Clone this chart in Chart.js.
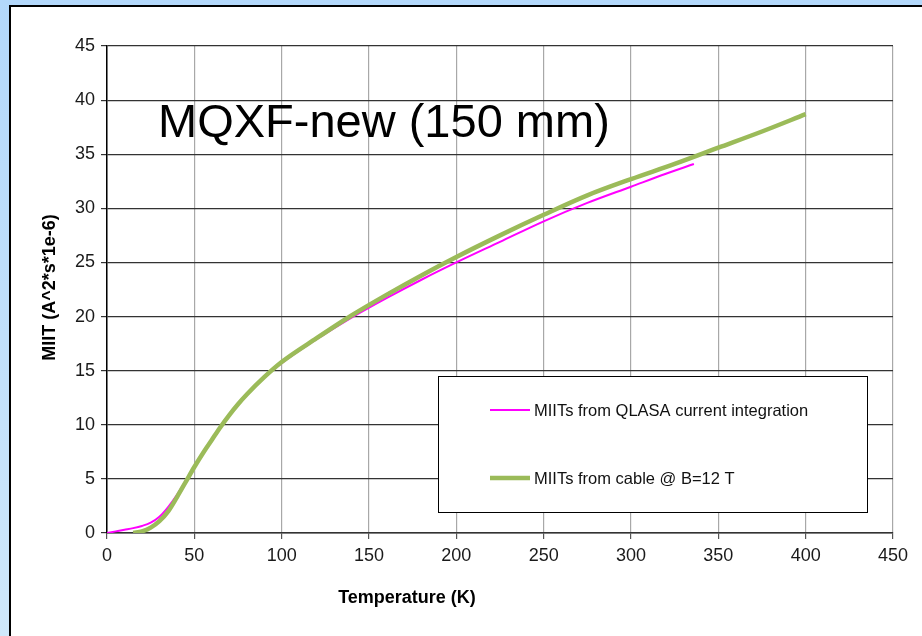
<!DOCTYPE html>
<html>
<head>
<meta charset="utf-8">
<script src="https://cdn.jsdelivr.net/npm/chart.js@4"></script>
<style>
  html, body { margin: 0; padding: 0; width: 922px; height: 636px; overflow: hidden; }
  body { background: linear-gradient(to bottom, #b3d8fb 0%, #c3e1fb 60%, #cfe8fb 100%); position: relative; }
  #panel { position: absolute; left: 9px; top: 5px; width: 940px; height: 660px; background: #fff;
           border-left: 2px solid #000; border-top: 2px solid #000; box-sizing: border-box; }
  #c { position: absolute; left: 0; top: 0; }
</style>
</head>
<body>
<div id="panel"></div>
<canvas id="c" width="922" height="636"></canvas>
<script>
// ---- data ----
const chartTitle = "MQXF-new (150 mm)";
const xAxisTitle = "Temperature (K)";
const yAxisTitle = "MIIT (A^2*s*1e-6)";
const qlasaLabel = "MIITs from QLASA current integration";
const cableLabel = "MIITs from cable @ B=12 T";

const qlasaT    = [0, 5, 10, 15, 20, 25, 30, 35, 40, 45, 50, 55, 60, 65, 70, 75, 80, 90, 100, 120, 140, 160, 180, 200, 225, 250, 275, 300, 320, 336];
const qlasaMIIT = [0, 0.15, 0.3, 0.45, 0.65, 0.95, 1.5, 2.4, 3.5, 4.8, 6.1, 7.4, 8.6, 9.8, 10.9, 11.9, 12.8, 14.4, 15.7, 17.9, 19.9, 21.7, 23.4, 25.0, 26.9, 28.8, 30.5, 32.0, 33.2, 34.1];

const cableT    = [15, 20, 25, 30, 35, 40, 45, 50, 55, 60, 65, 70, 75, 80, 90, 100, 120, 140, 160, 180, 200, 225, 250, 275, 300, 325, 350, 375, 400];
const cableMIIT = [0, 0.15, 0.5, 1.1, 2.0, 3.3, 4.7, 6.1, 7.4, 8.6, 9.8, 10.9, 11.9, 12.8, 14.4, 15.8, 18.0, 20.1, 22.0, 23.8, 25.5, 27.5, 29.4, 31.2, 32.7, 34.1, 35.6, 37.1, 38.7];

const xTickValues = [0, 50, 100, 150, 200, 250, 300, 350, 400, 450];
const yTickValues = [0, 5, 10, 15, 20, 25, 30, 35, 40, 45];

const FONT = "'Liberation Sans', Arial, sans-serif";

const toPoints = (xs, ys) => xs.map((x, i) => ({ x: x, y: ys[i] }));

const overlayPlugin = {
  id: 'overlay',
  afterDatasetsDraw(chart) {
    const ctx = chart.ctx;
    const area = chart.chartArea;
    ctx.save();
    // big title inside plot
    ctx.fillStyle = '#000';
    ctx.font = '47px ' + FONT;
    ctx.textBaseline = 'alphabetic';
    ctx.textAlign = 'left';
    ctx.fillText(chartTitle, 158, 137);

    // legend box
    const lx = 438, ly = 376, lw = 429, lh = 136;
    ctx.fillStyle = '#fff';
    ctx.fillRect(lx, ly, lw, lh);
    ctx.strokeStyle = '#000';
    ctx.lineWidth = 1;
    ctx.strokeRect(lx + 0.5, ly + 0.5, lw, lh);
    const ds = chart.data.datasets;
    const rows = [{ d: ds[0], y: 410 }, { d: ds[1], y: 478 }];
    rows.forEach(r => {
      ctx.strokeStyle = r.d.borderColor;
      ctx.lineWidth = r.d.borderWidth;
      ctx.beginPath();
      ctx.moveTo(490, r.y);
      ctx.lineTo(530, r.y);
      ctx.stroke();
      ctx.fillStyle = '#111';
      ctx.font = '16.5px ' + FONT;
      ctx.textBaseline = 'middle';
      ctx.fillText(r.d.label, 534, r.y + 1);
    });

    // axis titles
    ctx.fillStyle = '#000';
    ctx.font = 'bold 18px ' + FONT;
    ctx.textAlign = 'center';
    ctx.textBaseline = 'middle';
    ctx.fillText(xAxisTitle, 407, 598);
    ctx.translate(50, (area.top + area.bottom) / 2 - 2);
    ctx.rotate(-Math.PI / 2);
    ctx.fillText(yAxisTitle, 0, 0);
    ctx.restore();
  }
};

new Chart(document.getElementById('c'), {
  type: 'line',
  data: {
    datasets: [
      { label: qlasaLabel, data: toPoints(qlasaT, qlasaMIIT), borderColor: '#ff00ff', borderWidth: 2,
        pointRadius: 0, cubicInterpolationMode: 'monotone', fill: false, order: 1 },
      { label: cableLabel, data: toPoints(cableT, cableMIIT), borderColor: '#9bbb59', borderWidth: 4.5,
        pointRadius: 0, cubicInterpolationMode: 'monotone', fill: false, order: 0 }
    ]
  },
  options: {
    responsive: false,
    animation: false,
    devicePixelRatio: 1,
    layout: { padding: { left: 0, top: 46, right: 29, bottom: 0 } },
    plugins: { legend: { display: false }, tooltip: { enabled: false }, title: { display: false } },
    scales: {
      x: {
        type: 'linear', min: 0, max: 450,
        afterBuildTicks: s => { s.ticks = xTickValues.map(v => ({ value: v })); },
        afterFit: s => { s.height = 103; },
        grid: { color: '#a8a8a8', lineWidth: 1.2, tickLength: 6, drawTicks: true, tickColor: '#555' },
        border: { color: '#333', width: 1.5 },
        ticks: { color: '#1a1a1a', font: { family: FONT, size: 18 }, padding: 6, maxRotation: 0 }
      },
      y: {
        type: 'linear', min: 0, max: 45,
        afterBuildTicks: s => { s.ticks = yTickValues.map(v => ({ value: v })); },
        afterFit: s => { s.width = 107; },
        grid: { color: '#333', lineWidth: 1.2, tickLength: 6, tickColor: '#333' },
        border: { color: '#000', width: 1.5 },
        ticks: { color: '#1a1a1a', font: { family: FONT, size: 18 }, padding: 6 }
      }
    }
  },
  plugins: [overlayPlugin]
});
</script>
</body>
</html>
